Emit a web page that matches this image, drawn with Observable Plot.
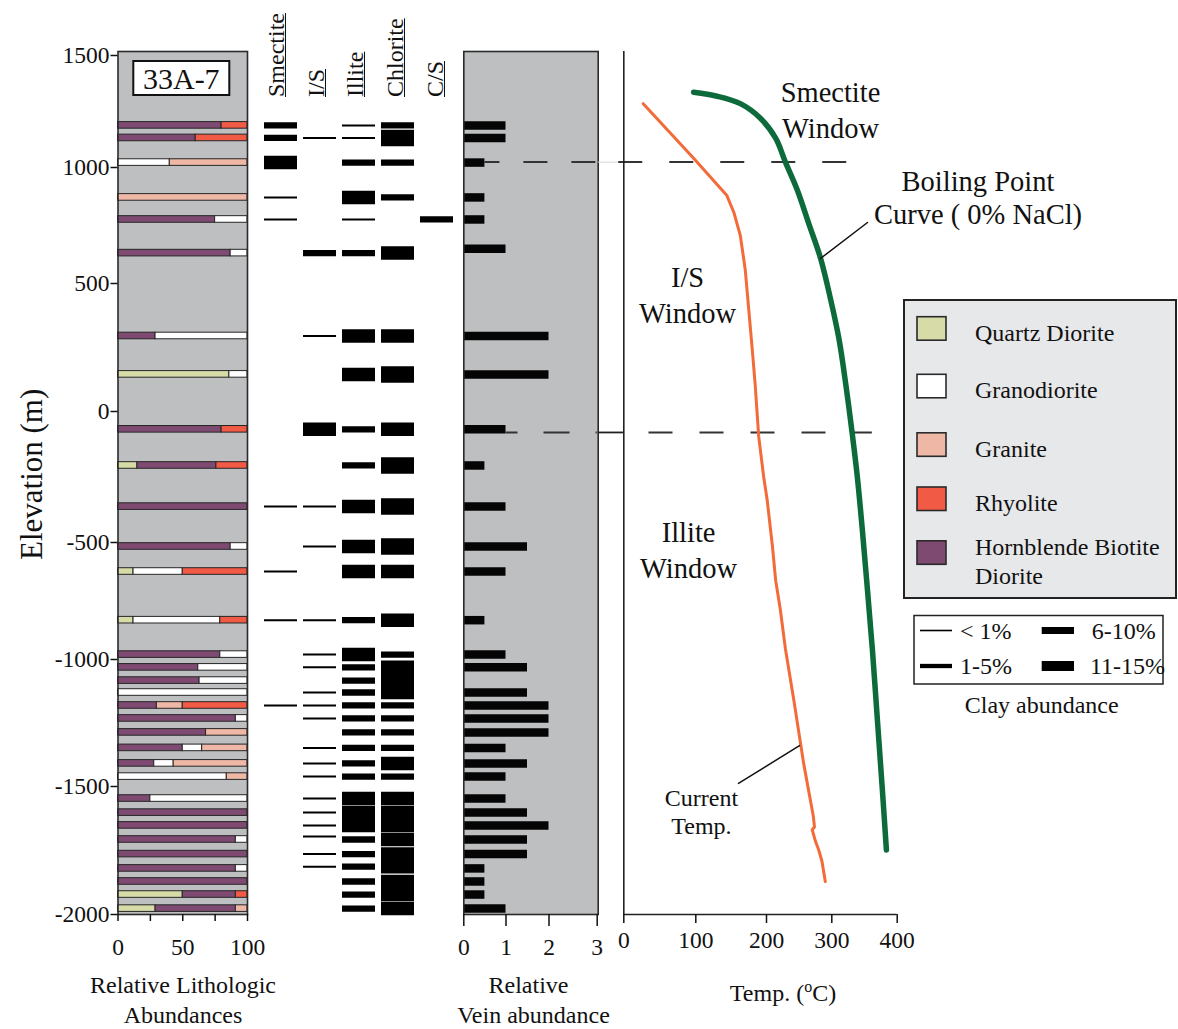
<!DOCTYPE html>
<html>
<head>
<meta charset="utf-8">
<script src="https://cdn.jsdelivr.net/npm/d3@7"></script>
<script src="https://cdn.jsdelivr.net/npm/@observablehq/plot@0.6"></script>
<style>
  body { margin: 0; background: #fff; }
  #chart { position: relative; width: 1178px; height: 1029px; overflow: hidden;
           font-family: "Liberation Serif", "Times New Roman", serif; color: #111; }
  #chart svg { position: absolute; left: 0; top: 0; }
  .lbl { position: absolute; white-space: nowrap; line-height: 1; transform: translate(-50%, -50%); font-size: 24px; }
  .rot { position: absolute; white-space: nowrap; transform: rotate(-90deg); transform-origin: 0 0; }
  .hdr { font-size: 24px; line-height: 24px; text-decoration: underline; text-decoration-thickness: 1.3px; }
</style>
</head>
<body>
<div id="chart"></div>
<script>
// ================= DATA =================
// Elevation axis ticks (m)
const yTicks = [-2000, -1500, -1000, -500, 0, 500, 1000, 1500];

// Lithology samples: elevation (m) and relative abundance (%) of each rock type
const rockNames = ["Quartz Diorite", "Hornblende Biotite Diorite", "Granodiorite", "Granite", "Rhyolite"];
const lithElev      = [1188, 1132, 1022, 871, 776, 631, 295, 145, -68, -206, -363, -517, -624, -832, -979, -1031, -1083, -1130, -1181, -1232, -1287, -1348, -1409, -1461, -1547, -1602, -1652, -1707, -1764, -1820, -1871, -1922, -1977];
const quartzDiorite = [0, 0, 0, 0, 0, 0, 0, 86, 0, 15, 0, 0, 12, 12, 0, 0, 0, 0, 0, 0, 0, 0, 0, 0, 0, 0, 0, 0, 0, 0, 0, 50, 29];
const hbDiorite     = [80, 60, 0, 0, 75, 87, 29, 0, 80, 61, 100, 87, 0, 0, 79, 62, 63, 0, 30, 91, 68, 50, 28, 0, 25, 100, 100, 91, 100, 91, 100, 41, 62];
const granodiorite  = [0, 0, 40, 0, 25, 13, 71, 14, 0, 0, 0, 13, 38, 67, 21, 38, 37, 100, 0, 9, 0, 15, 15, 84, 75, 0, 0, 9, 0, 9, 0, 0, 0];
const granite       = [0, 0, 60, 100, 0, 0, 0, 0, 0, 0, 0, 0, 0, 0, 0, 0, 0, 0, 20, 0, 32, 35, 57, 16, 0, 0, 0, 0, 0, 0, 0, 0, 9];
const rhyolite      = [20, 40, 0, 0, 0, 0, 0, 0, 20, 24, 0, 0, 50, 21, 0, 0, 0, 0, 50, 0, 0, 0, 0, 0, 0, 0, 0, 0, 0, 0, 0, 9, 0];

// Clay minerals: [elevation (m), abundance class] ; class 1 = <1%, 2 = 1-5%, 3 = 6-10%, 4 = 11-15%
const minerals = ["Smectite", "I/S", "Illite", "Chlorite", "C/S"];
const smectite = [[1188,2],[1132,2],[1022,3],[871,1],[776,1],[-363,1],[-624,1],[-832,1],[-1181,1]];
const mixedIS  = [[1132,1],[631,2],[295,1],[-68,3],[-363,1],[-517,1],[-832,1],[-979,1],[-1031,1],[-1130,1],[-1181,1],[-1232,1],[-1348,1],[-1409,1],[-1461,1],[-1547,1],[-1602,1],[-1652,1],[-1695,1],[-1764,1],[-1813,1]];
const illite   = [[1188,1],[1132,1],[1022,2],[871,3],[776,1],[631,2],[295,3],[145,3],[-68,2],[-206,2],[-363,3],[-517,3],[-624,3],[-832,2],[-979,3],[-1031,2],[-1083,2],[-1130,2],[-1181,2],[-1232,2],[-1287,2],[-1348,2],[-1409,2],[-1461,2],[-1547,3],[-1602,3],[-1652,3],[-1707,2],[-1764,2],[-1813,2],[-1871,2],[-1922,2],[-1977,2]];
const chlorite = [[1188,2],[1132,4],[1022,2],[871,2],[631,3],[295,3],[145,4],[-68,3],[-206,4],[-363,4],[-517,4],[-624,3],[-832,3],[-979,2],[-1031,3],[-1083,3],[-1130,3],[-1181,2],[-1232,2],[-1287,2],[-1348,2],[-1409,3],[-1461,2],[-1547,3],[-1602,3],[-1652,3],[-1707,3],[-1764,3],[-1813,3],[-1871,3],[-1922,3],[-1977,3]];
const mixedCS  = [[776,2]];

// Relative vein abundance
const veinElev  = [1188, 1132, 1022, 871, 776, 650, 295, 145, -68, -206, -363, -517, -624, -832, -979, -1031, -1130, -1181, -1232, -1287, -1348, -1409, -1461, -1547, -1602, -1652, -1707, -1764, -1820, -1871, -1922, -1977];
const veinValue = [1, 1, 0.5, 0.5, 0.5, 1, 2, 2, 1, 0.5, 1, 1.5, 1, 0.5, 1, 1.5, 1.5, 2, 2, 2, 1, 1.5, 1, 1, 1.5, 2, 1.5, 1.5, 0.5, 0.5, 0.5, 1];

// Boiling point curve (0% NaCl)
const boilTemp = [97, 130, 163, 191, 214, 229, 247, 265, 283, 298, 311, 321.5, 331, 339, 346.5, 354, 362, 369.5, 377, 383.5];
const boilElev = [1336, 1318, 1285, 1221, 1131, 1024, 904, 756, 607, 440, 283, 104, -80, -249, -446, -685, -955, -1230, -1501, -1748];
// Current temperature
const curTemp = [27, 97, 144, 154, 163, 170, 175, 180, 184, 189, 196, 201, 209, 214, 221, 229, 242, 257, 271.5, 273.5, 270, 275, 280, 285, 290];
const curElev = [1285, 1041, 879, 805, 706, 558, 395, 238, 104, -96, -249, -337, -514, -661, -783, -955, -1162, -1411, -1613, -1658, -1669, -1714, -1748, -1793, -1871];

// Clay window boundaries (m): smectite / I/S, I/S / illite
const windowBounds = [1024, -80];
const tempTicks = [0, 100, 200, 300, 400];
const veinTicks = [0, 1, 2, 3];
const lithTicks = [0, 25, 50, 75, 100];

// ================= STYLES / SCALES =================
const rockColor = {
  "Quartz Diorite": "#d6dba7",
  "Granodiorite": "#ffffff",
  "Granite": "#efb8a6",
  "Rhyolite": "#f15a45",
  "Hornblende Biotite Diorite": "#7f4a72"
};
const clayWidth = {1: 2, 2: 6.3, 3: 13.5, 4: 16.5};
const W = 1178, H = 1029;
const MT = 51, MB = 115;

// The printed axes are not evenly spaced; piecewise transforms reproduce the printed tick spacing.
const yPiece = d3.scaleLinear().domain([-2000, -1500, -1000, -500, 0, 500, 1000, 1500, 1518])
                               .range([914, 786, 659, 542, 411, 283, 167, 55, 51]);
const yScale = {transform: v => yPiece(v), domain: [H - MB, MT]};
const veinPiece = d3.scaleLinear().domain([0, 1, 2, 3]).range([463.3, 505.5, 548.5, 596.7]);
const tempPiece = d3.scaleLinear().domain([0, 100, 200, 300, 400]).range([623.3, 695.3, 766, 831.3, 896.7]);

// axis ticks live in the transformed space; labels map back to the data values
function axisTicks(values, piece) {
  const pos = values.map(v => piece(v));
  const lab = new Map(pos.map((p, i) => [p, String(values[i])]));
  return {ticks: pos, tickFormat: d => lab.get(d) ?? ""};
}

const baseStyle = {fontFamily: "Liberation Serif, Times New Roman, serif", fontSize: "23.5px",
                   background: "transparent", overflow: "visible", color: "#111"};
const gray = "#bebfc1";

const chart = document.getElementById("chart");

// ---------- derived tables ----------
const lithSeries = {"Quartz Diorite": quartzDiorite, "Hornblende Biotite Diorite": hbDiorite,
                    "Granodiorite": granodiorite, "Granite": granite, "Rhyolite": rhyolite};
const lithRows = [];
lithElev.forEach((elev, i) => {
  let acc = 0;
  for (const rock of rockNames) {
    const v = lithSeries[rock][i];
    if (v > 0) { lithRows.push({elev, rock, x1: acc, x2: acc + v}); acc += v; }
  }
});
const claySets = {"Smectite": smectite, "I/S": mixedIS, "Illite": illite, "Chlorite": chlorite, "C/S": mixedCS};
const clayRows = [];
for (const m of minerals) for (const [elev, cls] of claySets[m]) clayRows.push({mineral: m, elev, cls});
const veinRows = veinElev.map((elev, i) => ({elev, value: veinValue[i]}));
const boilRows = boilTemp.map((t, i) => ({t, e: boilElev[i]}));
const curRows = curTemp.map((t, i) => ({t, e: curElev[i]}));

const leaders = [
  {id: "boil", t: 354.6, e: 763}, {id: "boil", t: 282.7, e: 607.8},
  {id: "cur", t: 160.4, e: -1488}, {id: "cur", t: 250.5, e: -1339}
];
const bigLabels = [
  {label: "Smectite\nWindow", t: 298, e: 1262},
  {label: "I/S\nWindow", t: 88.5, e: 461},
  {label: "Illite\nWindow", t: 90, e: -526}
];
const boilLabel = [{label: "Boiling Point\nCurve ( 0% NaCl)", t: 523.5, e: 875}];
const curLabel = [{label: "Current\nTemp.", t: 108, e: -1595}];

// ================= PANELS =================
const litho = Plot.plot({
  width: W, height: H, marginLeft: 117.5, marginRight: W - 247, marginTop: MT, marginBottom: MB,
  style: baseStyle,
  x: {domain: [0, 100]},
  y: yScale,
  color: {domain: rockNames, range: rockNames.map(r => rockColor[r])},
  marks: [
    Plot.frame({fill: gray, stroke: "none"}),
    Plot.rect(lithRows, {x1: "x1", x2: "x2", y1: "elev", y2: "elev", insetTop: -3.3, insetBottom: -3.3,
                         fill: "rock", stroke: "#262626", strokeWidth: 1}),
    Plot.frame({stroke: "#2b2b2b", strokeWidth: 1.6}),
    Plot.axisY({...axisTicks(yTicks, yPiece), tickSize: 7, tickPadding: 1.5, label: null, strokeWidth: 1.5}),
    Plot.axisX({ticks: lithTicks, tickSize: 7, tickPadding: 17, tickFormat: d => d % 50 === 0 ? String(d) : "",
                label: null, strokeWidth: 1.5})
  ]
});

const clay = Plot.plot({
  width: W, height: H, marginLeft: 0, marginRight: 0, marginTop: MT, marginBottom: MB,
  style: baseStyle,
  x: {type: "band", domain: minerals, range: [263, 454], paddingInner: 0.146, paddingOuter: 0, axis: null},
  y: {...yScale, axis: null},
  marks: [
    Plot.tickY(clayRows, {x: "mineral", y: "elev", stroke: "#000", strokeWidth: d => clayWidth[d.cls]})
  ]
});

const vein = Plot.plot({
  width: W, height: H, marginLeft: 463.3, marginRight: W - 597.7, marginTop: MT, marginBottom: MB,
  style: baseStyle,
  x: {transform: v => veinPiece(v), domain: [463.3, 597.7]},
  y: {...yScale, axis: null},
  marks: [
    Plot.frame({fill: gray, stroke: "none"}),
    Plot.ruleY(veinRows, {y: "elev", x1: 0, x2: "value", stroke: "#050505", strokeWidth: 8.5}),
    Plot.ruleY([windowBounds[0]], {x1: 0.5, x2: 3, stroke: "#333", strokeWidth: 2, strokeDasharray: "24 24", strokeDashoffset: 9}),
    Plot.ruleY([windowBounds[1]], {x1: 1, x2: 3, stroke: "#333", strokeWidth: 2, strokeDasharray: "26 26", strokeDashoffset: 14}),
    Plot.frame({stroke: "#2b2b2b", strokeWidth: 1.6}),
    Plot.axisX({...axisTicks(veinTicks, veinPiece), tickSize: 12, tickPadding: 12, label: null, strokeWidth: 1.5})
  ]
});

const temp = Plot.plot({
  width: W, height: H, marginLeft: 623.3, marginRight: W - 896.7, marginTop: MT, marginBottom: MB,
  style: baseStyle,
  x: {transform: v => tempPiece(v), domain: [623.3, 896.7]},
  y: {...yScale, axis: null},
  marks: [
    Plot.ruleY([windowBounds[0]], {x1: -35.5, x2: -7, stroke: "#d4d4d4", strokeWidth: 1}),
    Plot.ruleY([windowBounds[0]], {x1: -7, x2: 364, stroke: "#333", strokeWidth: 2, strokeDasharray: "24 27"}),
    Plot.ruleY([windowBounds[1]], {x1: -35.5, x2: 0, stroke: "#222", strokeWidth: 1.8}),
    Plot.ruleY([windowBounds[1]], {x1: 35, x2: 362, stroke: "#333", strokeWidth: 2, strokeDasharray: "24 27"}),
    Plot.ruleX([0], {y1: -2000, y2: 1518, stroke: "#222", strokeWidth: 1.6}),
    Plot.ruleY([-2000], {x1: 0, x2: 400, stroke: "#222", strokeWidth: 1.6}),
    Plot.line(boilRows, {x: "t", y: "e", stroke: "#0d6a3b", strokeWidth: 5.5, curve: "catmull-rom"}),
    Plot.line(curRows, {x: "t", y: "e", stroke: "#f26b38", strokeWidth: 3}),
    Plot.line(leaders, {x: "t", y: "e", z: "id", stroke: "#111", strokeWidth: 1.5}),
    Plot.text(bigLabels, {x: "t", y: "e", text: "label", fontSize: 28.5, lineHeight: 1.27, fill: "#111"}),
    Plot.text(boilLabel, {x: "t", y: "e", text: "label", fontSize: 28.5, lineHeight: 1.17, fill: "#111"}),
    Plot.text(curLabel, {x: "t", y: "e", text: "label", fontSize: 24, lineHeight: 1.2, fill: "#111"}),
    Plot.axisX({...axisTicks(tempTicks, tempPiece), tickSize: 9, tickPadding: 8, label: null, strokeWidth: 1.5})
  ]
});

for (const p of [litho, clay, vein, temp]) chart.appendChild(p);

// ================= LEGENDS / BOXES (overlay) =================
const ov = d3.select(chart).append("svg").attr("width", W).attr("height", H)
  .style("font-family", "Liberation Serif, Times New Roman, serif").style("overflow", "visible");

// well label box
ov.append("rect").attr("x", 133.3).attr("y", 61).attr("width", 96).attr("height", 34)
  .attr("fill", "#fff").attr("stroke", "#111").attr("stroke-width", 2);
ov.append("text").attr("x", 181.3).attr("y", 78).attr("text-anchor", "middle").attr("dominant-baseline", "central")
  .attr("font-size", 30).attr("fill", "#111").text("33A-7");

// lithology legend
ov.append("rect").attr("x", 904).attr("y", 300).attr("width", 272).attr("height", 298)
  .attr("fill", "#e7e8ea").attr("stroke", "#222").attr("stroke-width", 2);
const legItems = [
  {rock: "Quartz Diorite", sy: 316.7, lines: [["Quartz Diorite", 332.5]]},
  {rock: "Granodiorite", sy: 374.3, lines: [["Granodiorite", 390]]},
  {rock: "Granite", sy: 432.8, lines: [["Granite", 449]]},
  {rock: "Rhyolite", sy: 487, lines: [["Rhyolite", 503]]},
  {rock: "Hornblende Biotite Diorite", sy: 540.8, lines: [["Hornblende Biotite", 546.5], ["Diorite", 576]]}
];
for (const it of legItems) {
  ov.append("rect").attr("x", 917).attr("y", it.sy).attr("width", 29).attr("height", 23.5)
    .attr("fill", rockColor[it.rock]).attr("stroke", "#2a2a2a").attr("stroke-width", 1.6);
  for (const [txt, ty] of it.lines)
    ov.append("text").attr("x", 975).attr("y", ty).attr("dominant-baseline", "central")
      .attr("font-size", 24).attr("fill", "#111").text(txt);
}

// clay abundance legend
ov.append("rect").attr("x", 914).attr("y", 615.5).attr("width", 249).attr("height", 68.5)
  .attr("fill", "#fff").attr("stroke", "#222").attr("stroke-width", 1.5);
const clayLeg = [
  {kind: "line", w: 1.6, x: 920, y: 630.5, label: "< 1%", lx: 960},
  {kind: "line", w: 4.3, x: 920, y: 666, label: "1-5%", lx: 960},
  {kind: "rect", h: 7, x: 1041.7, y: 630.5, label: "6-10%", lx: 1091.7},
  {kind: "rect", h: 10, x: 1041.7, y: 666, label: "11-15%", lx: 1090}
];
for (const c of clayLeg) {
  if (c.kind === "line")
    ov.append("line").attr("x1", c.x).attr("x2", c.x + 32).attr("y1", c.y).attr("y2", c.y)
      .attr("stroke", "#000").attr("stroke-width", c.w);
  else
    ov.append("rect").attr("x", c.x).attr("y", c.y - c.h / 2).attr("width", 32.3).attr("height", c.h).attr("fill", "#000");
  ov.append("text").attr("x", c.lx).attr("y", c.y).attr("dominant-baseline", "central")
    .attr("font-size", 24).attr("fill", "#111").text(c.label);
}
ov.append("text").attr("x", 1041.7).attr("y", 705).attr("text-anchor", "middle").attr("dominant-baseline", "central")
  .attr("font-size", 24).attr("fill", "#111").text("Clay abundance");

// ================= HTML TITLES =================
function addLabel(html, cx, cy, size) {
  const d = document.createElement("div");
  d.className = "lbl"; d.style.left = cx + "px"; d.style.top = cy + "px";
  if (size) d.style.fontSize = size + "px";
  d.innerHTML = html; chart.appendChild(d);
}
function addRot(text, left, top, cls, size) {
  const d = document.createElement("div");
  d.className = "rot " + (cls || ""); d.style.left = left + "px"; d.style.top = top + "px";
  if (size) { d.style.fontSize = size + "px"; d.style.lineHeight = size + "px"; }
  d.textContent = text; chart.appendChild(d);
}
addRot("Elevation (m)", 15.5, 560, "", 31);
const headerUnderlineX = [286.7, 326.7, 365.7, 405, 445];
minerals.forEach((m, i) => addRot(m, headerUnderlineX[i] - 22.5, 97, "hdr"));

addLabel("Relative Lithologic", 183, 985);
addLabel("Abundances", 183, 1015);
addLabel("Relative", 528.5, 985);
addLabel("Vein abundance", 533.5, 1015);
addLabel('Temp. (<span style="font-size:16px;position:relative;top:-9px">o</span>C)', 783, 993);
</script>
</body>
</html>
